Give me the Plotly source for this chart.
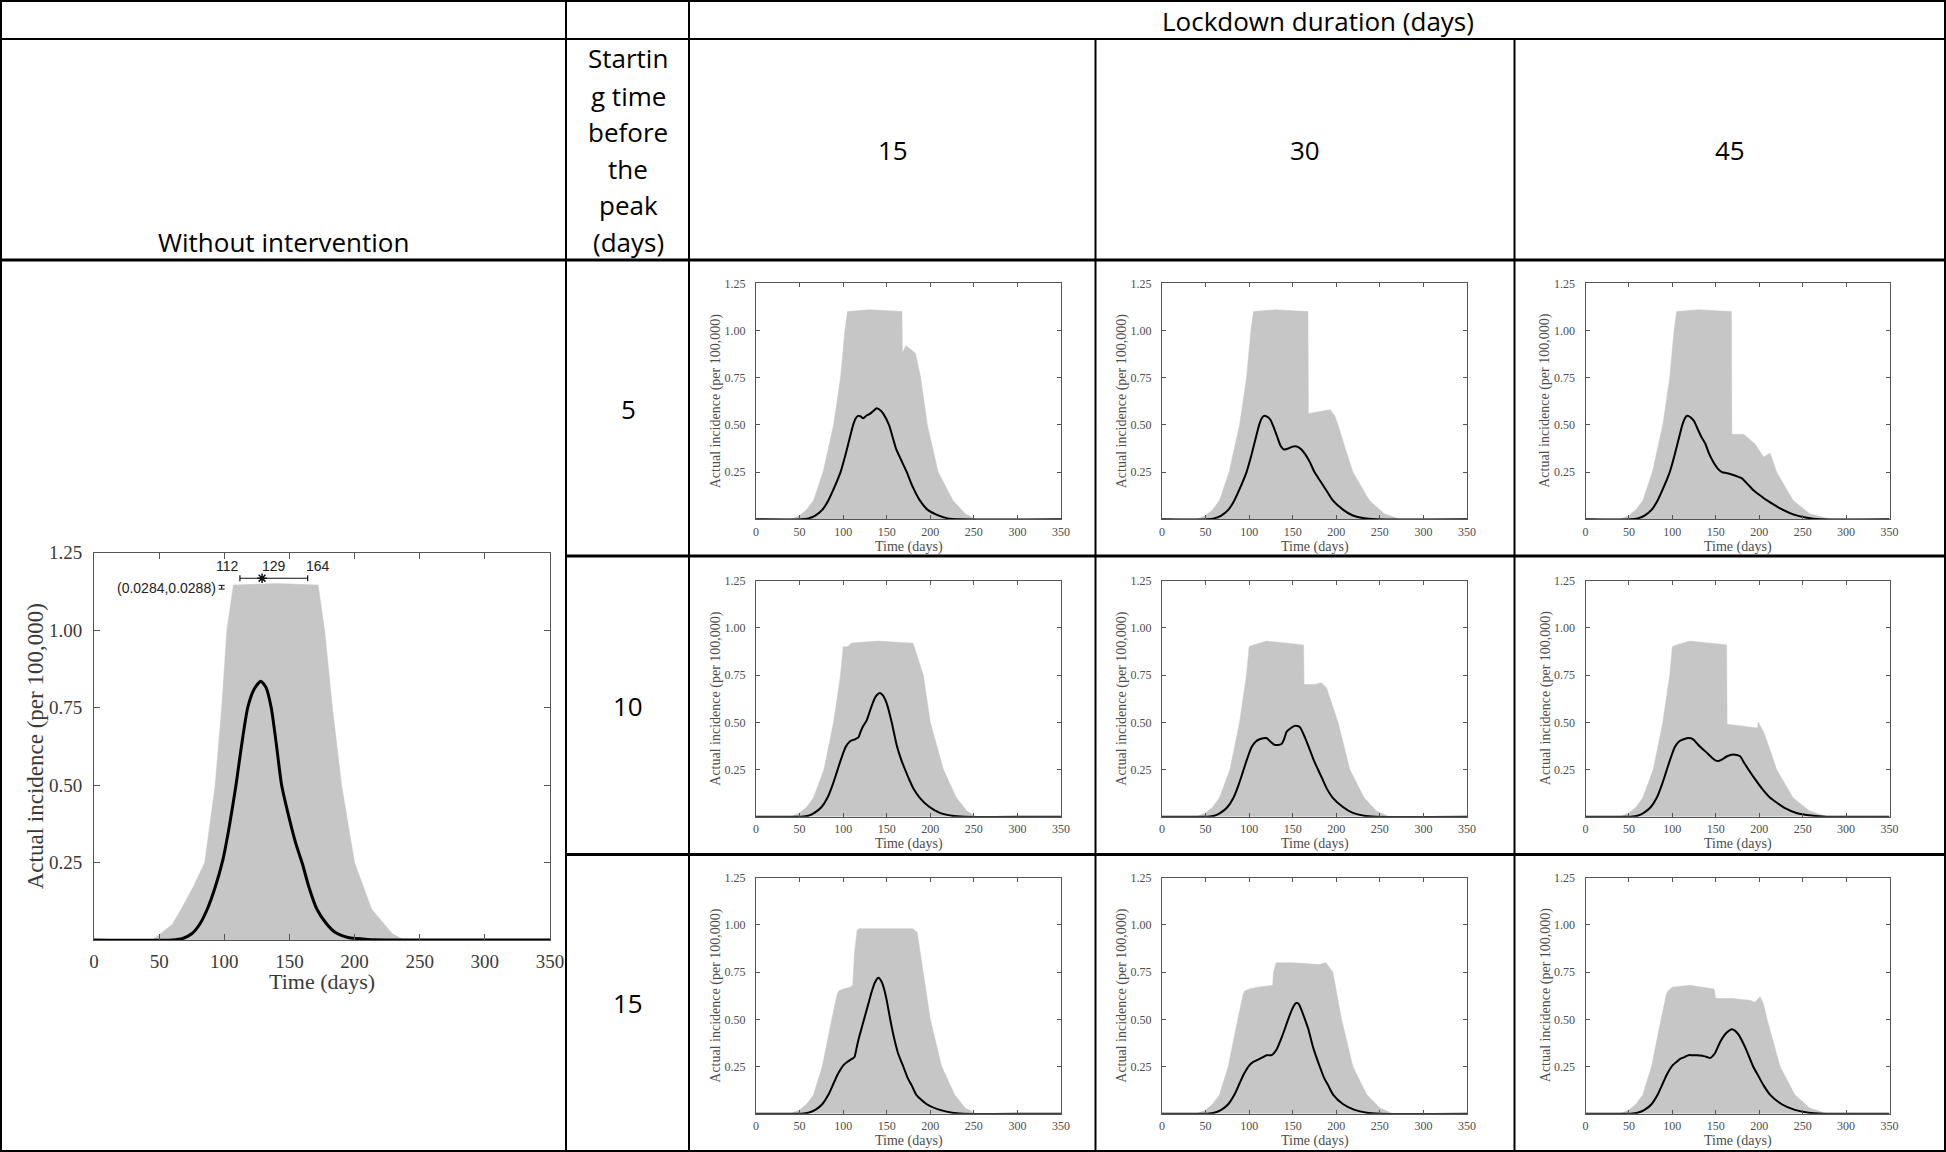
import plotly.graph_objects as go

W, H = 1946, 1152

# ------------------------------------------------------------------ data
X_TICKS = [0, 50, 100, 150, 200, 250, 300, 350]
Y_TICKS = [0.25, 0.50, 0.75, 1.00, 1.25]
Y_TICK_TEXT = ["0.25", "0.50", "0.75", "1.00", "1.25"]
DURATIONS = [15, 30, 45]          # lockdown duration (days)
STARTS = [5, 10, 15]              # starting time before the peak (days)

# --- without intervention
NOINT_ENV_DAYS = [0, 45, 51, 60, 67, 76, 85, 93, 98, 102, 107, 140, 172, 177, 183, 190, 200, 213, 229, 238, 350]
NOINT_ENV_VAL = [0, 0, 0.02, 0.05, 0.1, 0.17, 0.25, 0.5, 0.75, 1.0, 1.145, 1.15, 1.145, 1.0, 0.75, 0.5, 0.25, 0.1, 0.02, 0, 0]
NOINT_MEAN_DAYS = [0, 60, 68, 75, 81, 87, 93, 99, 104, 109, 113, 118, 123, 128, 132, 136, 140, 144, 150, 155,
                   160, 165, 171, 178, 185, 195, 210, 230, 350]
NOINT_MEAN_VAL = [0, 0, 0.005, 0.02, 0.05, 0.1, 0.17, 0.26, 0.37, 0.5, 0.62, 0.75, 0.81, 0.835, 0.815, 0.75, 0.63, 0.5, 0.39, 0.31,
                  0.245, 0.17, 0.1, 0.055, 0.025, 0.008, 0.002, 0, 0]
PEAK_DAY_LO, PEAK_DAY_MED, PEAK_DAY_HI = 112, 129, 164
PEAK_VAL_CI = (0.0284, 0.0288)

# --- shared rising part per starting-time row (before the lockdown acts)
ROW1_ENV_LEFT_DAYS = [0, 40, 50, 58, 66, 77, 89, 97, 102, 105]
ROW1_ENV_LEFT_VAL = [0, 0, 0.02, 0.05, 0.1, 0.25, 0.5, 0.75, 1.0, 1.1]
ROW2_ENV_LEFT_DAYS = [0, 40, 50, 58, 66, 78, 89, 97, 100]
ROW2_ENV_LEFT_VAL = [0, 0, 0.02, 0.05, 0.1, 0.25, 0.5, 0.75, 0.9]
ROW3_ENV_LEFT_DAYS = [0, 40, 50, 58, 66, 76, 87, 93, 95]
ROW3_ENV_LEFT_VAL = [0, 0, 0.02, 0.05, 0.1, 0.25, 0.5, 0.63, 0.65]

ROW1_MEAN_LEFT_DAYS = [0, 52, 60, 68, 76, 83, 90, 97, 102, 107, 111.5, 114.5, 117]
ROW1_MEAN_LEFT_VAL = [0, 0, 0.005, 0.02, 0.05, 0.1, 0.17, 0.25, 0.33, 0.42, 0.5, 0.535, 0.548]
ROW2_MEAN_LEFT_DAYS = [0, 52, 60, 67, 75, 82, 88, 93, 98, 103, 108]
ROW2_MEAN_LEFT_VAL = [0, 0, 0.005, 0.02, 0.05, 0.1, 0.17, 0.24, 0.31, 0.37, 0.40]
ROW3_MEAN_LEFT_DAYS = [0, 52, 60, 68, 76, 83, 88, 94, 100, 105]
ROW3_MEAN_LEFT_VAL = [0, 0, 0.005, 0.02, 0.05, 0.1, 0.15, 0.21, 0.255, 0.275]

# --- start 5 days before peak
S5_D15_ENV_DAYS = [130, 160, 167.5, 168, 172, 183, 189, 196.6, 209, 226, 240, 252, 350]
S5_D15_ENV_VAL = [1.11, 1.10, 1.10, 0.88, 0.92, 0.88, 0.75, 0.5, 0.25, 0.1, 0.03, 0, 0]
S5_D15_MEAN_DAYS = [120, 123, 127, 131, 135, 138.5, 142, 146, 152.6, 161, 167, 173, 180, 188, 197, 207, 220, 235, 350]
S5_D15_MEAN_VAL = [0.545, 0.535, 0.55, 0.56, 0.575, 0.588, 0.58, 0.56, 0.5, 0.37, 0.31, 0.25, 0.17, 0.1, 0.05, 0.025, 0.005, 0, 0]

S5_D30_ENV_DAYS = [130, 167.5, 168, 180, 193, 198, 202, 210, 219, 238, 255, 273, 350]
S5_D30_ENV_VAL = [1.11, 1.10, 0.56, 0.57, 0.58, 0.55, 0.5, 0.38, 0.25, 0.1, 0.03, 0, 0]
S5_D30_MEAN_DAYS = [120, 124, 128, 132, 136, 140, 145, 150, 155, 160, 165, 170, 175, 182, 189, 196, 208, 219, 232, 246, 350]
S5_D30_MEAN_VAL = [0.545, 0.53, 0.49, 0.44, 0.39, 0.37, 0.375, 0.385, 0.385, 0.37, 0.34, 0.30, 0.25, 0.2, 0.15, 0.1, 0.05, 0.02, 0.005, 0, 0]

S5_D45_ENV_DAYS = [130, 168, 168.5, 182, 195, 205, 212.6, 216, 220, 239, 258, 282, 350]
S5_D45_ENV_VAL = [1.11, 1.10, 0.45, 0.45, 0.40, 0.33, 0.35, 0.30, 0.25, 0.1, 0.03, 0, 0]
S5_D45_MEAN_DAYS = [121, 125, 128, 133, 138, 142, 147, 152, 157, 162, 166.5, 172, 180, 187, 193, 200, 209, 216, 224, 239, 255, 270, 350]
S5_D45_MEAN_VAL = [0.54, 0.52, 0.49, 0.44, 0.40, 0.35, 0.305, 0.27, 0.25, 0.245, 0.24, 0.232, 0.217, 0.185, 0.155, 0.13, 0.1, 0.08, 0.058, 0.026, 0.008, 0, 0]

# --- start 10 days before peak
S10_D15_ENV_DAYS = [105, 110, 140, 175, 180, 183, 192, 200, 215, 230, 242, 253, 350]
S10_D15_ENV_VAL = [0.90, 0.92, 0.93, 0.92, 0.92, 0.88, 0.75, 0.5, 0.25, 0.1, 0.03, 0, 0]
S10_D15_MEAN_DAYS = [113.6, 117.5, 120, 123, 127, 130, 133, 136, 138.5, 142, 146, 150, 155.7, 161.4, 166, 171, 176, 180.6, 188, 198, 211, 225, 240, 350]
S10_D15_MEAN_VAL = [0.41, 0.42, 0.45, 0.48, 0.51, 0.55, 0.59, 0.625, 0.643, 0.655, 0.64, 0.6, 0.5, 0.38, 0.31, 0.25, 0.195, 0.15, 0.1, 0.055, 0.02, 0.005, 0, 0]

S10_D30_ENV_DAYS = [105, 120, 140, 162.5, 163, 175, 183, 189, 202, 215.5, 232, 246, 261, 350]
S10_D30_ENV_VAL = [0.91, 0.93, 0.92, 0.91, 0.70, 0.70, 0.71, 0.68, 0.5, 0.25, 0.1, 0.03, 0, 0]
S10_D30_MEAN_DAYS = [112, 116, 120, 124, 129.5, 133, 137, 140, 143, 148, 152.5, 158, 164, 170, 175, 179, 184, 189, 196, 208, 219, 232, 246, 350]
S10_D30_MEAN_VAL = [0.41, 0.415, 0.417, 0.40, 0.38, 0.38, 0.385, 0.41, 0.45, 0.47, 0.482, 0.475, 0.42, 0.35, 0.29, 0.25, 0.2, 0.15, 0.1, 0.05, 0.02, 0.005, 0, 0]

S10_D45_ENV_DAYS = [105, 120, 140, 162.5, 163, 180, 195, 198, 199, 205, 212, 220, 239, 258, 278, 350]
S10_D45_ENV_VAL = [0.91, 0.93, 0.92, 0.91, 0.49, 0.48, 0.47, 0.47, 0.50, 0.45, 0.36, 0.25, 0.1, 0.03, 0, 0]
S10_D45_MEAN_DAYS = [113, 118.6, 124, 128, 132, 137, 141.6, 145, 149, 153, 158, 163, 170, 178, 182, 187.6, 195, 203, 212.6, 220, 228, 243, 260, 278, 350]
S10_D45_MEAN_VAL = [0.41, 0.417, 0.41, 0.39, 0.37, 0.35, 0.33, 0.315, 0.30, 0.295, 0.305, 0.32, 0.33, 0.32, 0.29, 0.25, 0.2, 0.15, 0.1, 0.075, 0.05, 0.02, 0.006, 0, 0]

# --- start 15 days before peak
S15_D15_ENV_DAYS = [100, 108, 111, 113, 116, 118, 150, 180, 185, 192, 200, 213, 228, 240, 253, 350]
S15_D15_ENV_VAL = [0.66, 0.67, 0.68, 0.85, 0.97, 0.98, 0.98, 0.98, 0.96, 0.75, 0.5, 0.25, 0.1, 0.03, 0, 0]
S15_D15_MEAN_DAYS = [110, 113, 115.5, 118, 121, 124, 127, 130, 133, 137, 140.4, 144, 147, 150, 154, 158, 163, 169, 174, 178.7, 184, 196, 211, 225, 238, 350]
S15_D15_MEAN_VAL = [0.29, 0.30, 0.35, 0.40, 0.45, 0.50, 0.55, 0.60, 0.65, 0.70, 0.72, 0.70, 0.66, 0.60, 0.5, 0.41, 0.32, 0.25, 0.19, 0.15, 0.1, 0.05, 0.02, 0.005, 0, 0]

S15_D30_ENV_DAYS = [100, 110, 127, 128, 131, 150, 180, 188, 193, 196, 206, 219, 235, 250, 265, 350]
S15_D30_ENV_VAL = [0.66, 0.67, 0.68, 0.75, 0.80, 0.80, 0.79, 0.80, 0.77, 0.75, 0.5, 0.25, 0.1, 0.03, 0, 0]
S15_D30_MEAN_DAYS = [112, 116, 120, 125.7, 131.5, 137, 141, 144.8, 149, 152.5, 154.5, 157, 160, 164, 167.8, 173.5, 181, 186, 190.7, 196.5, 208, 221, 235, 250, 350]
S15_D30_MEAN_VAL = [0.29, 0.30, 0.31, 0.31, 0.34, 0.40, 0.45, 0.50, 0.55, 0.58, 0.588, 0.58, 0.55, 0.50, 0.45, 0.35, 0.25, 0.19, 0.15, 0.1, 0.05, 0.02, 0.005, 0, 0]

S15_D45_ENV_DAYS = [100, 120, 148, 150, 170, 190, 195, 201, 205, 209, 224, 241, 258, 278, 350]
S15_D45_ENV_VAL = [0.67, 0.68, 0.66, 0.61, 0.61, 0.60, 0.59, 0.62, 0.58, 0.5, 0.25, 0.1, 0.03, 0, 0]
S15_D45_MEAN_DAYS = [109, 114, 118.6, 123, 128, 132, 136, 140, 143.5, 149, 155, 159, 162.7, 168.5, 172, 176, 184, 193, 199, 205, 212.6, 226, 241, 257, 274, 350]
S15_D45_MEAN_VAL = [0.29, 0.30, 0.31, 0.31, 0.31, 0.308, 0.305, 0.30, 0.295, 0.32, 0.38, 0.41, 0.43, 0.447, 0.44, 0.42, 0.35, 0.25, 0.2, 0.15, 0.1, 0.05, 0.02, 0.005, 0, 0]

PANELS = {
    (5, 15): (ROW1_ENV_LEFT_DAYS + S5_D15_ENV_DAYS, ROW1_ENV_LEFT_VAL + S5_D15_ENV_VAL,
              ROW1_MEAN_LEFT_DAYS + S5_D15_MEAN_DAYS, ROW1_MEAN_LEFT_VAL + S5_D15_MEAN_VAL),
    (5, 30): (ROW1_ENV_LEFT_DAYS + S5_D30_ENV_DAYS, ROW1_ENV_LEFT_VAL + S5_D30_ENV_VAL,
              ROW1_MEAN_LEFT_DAYS + S5_D30_MEAN_DAYS, ROW1_MEAN_LEFT_VAL + S5_D30_MEAN_VAL),
    (5, 45): (ROW1_ENV_LEFT_DAYS + S5_D45_ENV_DAYS, ROW1_ENV_LEFT_VAL + S5_D45_ENV_VAL,
              ROW1_MEAN_LEFT_DAYS + S5_D45_MEAN_DAYS, ROW1_MEAN_LEFT_VAL + S5_D45_MEAN_VAL),
    (10, 15): (ROW2_ENV_LEFT_DAYS + S10_D15_ENV_DAYS, ROW2_ENV_LEFT_VAL + S10_D15_ENV_VAL,
               ROW2_MEAN_LEFT_DAYS + S10_D15_MEAN_DAYS, ROW2_MEAN_LEFT_VAL + S10_D15_MEAN_VAL),
    (10, 30): (ROW2_ENV_LEFT_DAYS + S10_D30_ENV_DAYS, ROW2_ENV_LEFT_VAL + S10_D30_ENV_VAL,
               ROW2_MEAN_LEFT_DAYS + S10_D30_MEAN_DAYS, ROW2_MEAN_LEFT_VAL + S10_D30_MEAN_VAL),
    (10, 45): (ROW2_ENV_LEFT_DAYS + S10_D45_ENV_DAYS, ROW2_ENV_LEFT_VAL + S10_D45_ENV_VAL,
               ROW2_MEAN_LEFT_DAYS + S10_D45_MEAN_DAYS, ROW2_MEAN_LEFT_VAL + S10_D45_MEAN_VAL),
    (15, 15): (ROW3_ENV_LEFT_DAYS + S15_D15_ENV_DAYS, ROW3_ENV_LEFT_VAL + S15_D15_ENV_VAL,
               ROW3_MEAN_LEFT_DAYS + S15_D15_MEAN_DAYS, ROW3_MEAN_LEFT_VAL + S15_D15_MEAN_VAL),
    (15, 30): (ROW3_ENV_LEFT_DAYS + S15_D30_ENV_DAYS, ROW3_ENV_LEFT_VAL + S15_D30_ENV_VAL,
               ROW3_MEAN_LEFT_DAYS + S15_D30_MEAN_DAYS, ROW3_MEAN_LEFT_VAL + S15_D30_MEAN_VAL),
    (15, 45): (ROW3_ENV_LEFT_DAYS + S15_D45_ENV_DAYS, ROW3_ENV_LEFT_VAL + S15_D45_ENV_VAL,
               ROW3_MEAN_LEFT_DAYS + S15_D45_MEAN_DAYS, ROW3_MEAN_LEFT_VAL + S15_D45_MEAN_VAL),
}

# ------------------------------------------------------------------ style / geometry (pixels)
GREY = "#c6c6c6"
SERIF = "Liberation Serif, Times New Roman, serif"
SANS = "Open Sans, Lato, Carlito, Calibri, sans-serif"
ARIAL = "Liberation Sans, Arial, sans-serif"

COL_X = [(756, 1061), (1162, 1467), (1585.5, 1889.5)]
ROW_Y = [(283.3, 519.3), (580.7, 816.7), (877.7, 1113.7)]
BIG_X = (94, 550)
BIG_Y = (552.5, 940)


def fx(p):
    return p / W


def fy(p):
    return 1 - p / H


fig = go.Figure()
annotations = []
layout_axes = {}


def axis_pair(idx, xpx, ypx, big):
    tick_size = 19 if big else 12
    tcol = "#3a3a3a" if big else "#4d4d4d"
    common = dict(showgrid=False, zeroline=False, showline=True, linecolor="#555", linewidth=1,
                  mirror="ticks", ticks="inside", ticklen=6 if big else 4, tickcolor="#555", tickwidth=1,
                  tickfont=dict(family=SERIF, size=tick_size, color=tcol), fixedrange=True,
                  automargin=False)
    sfx = "" if idx == 1 else str(idx)
    layout_axes["xaxis" + sfx] = dict(common, domain=[fx(xpx[0]), fx(xpx[1])], range=[0, 350],
                                      tickvals=X_TICKS, ticktext=[str(t) for t in X_TICKS],
                                      anchor="y" + sfx, ticklabelstandoff=4 if big else 1)
    layout_axes["yaxis" + sfx] = dict(common, domain=[fy(ypx[1]), fy(ypx[0])], range=[0, 1.25],
                                      tickvals=Y_TICKS, ticktext=Y_TICK_TEXT,
                                      anchor="x" + sfx, ticklabelstandoff=7 if big else 7)
    # axis titles
    tsize = 22 if big else 14
    cx = (xpx[0] + xpx[1]) / 2
    cy = (ypx[0] + ypx[1]) / 2
    annotations.append(dict(text="Time (days)", xref="paper", yref="paper", x=fx(cx),
                            y=fy(ypx[1] + (41 if big else 27.5)), showarrow=False,
                            xanchor="center", yanchor="middle",
                            font=dict(family=SERIF, size=tsize, color=tcol)))
    annotations.append(dict(text="Actual incidence (per 100,000)", xref="paper", yref="paper",
                            x=fx(xpx[0] - (59 if big else 40)), y=fy(cy), showarrow=False, textangle=-90,
                            xanchor="center", yanchor="middle",
                            font=dict(family=SERIF, size=23 if big else 14, color=tcol)))
    return ("x" + sfx, "y" + sfx)


def add_panel(xa, ya, env_d, env_v, mean_d, mean_v, lw):
    fig.add_trace(go.Scatter(x=env_d, y=env_v, mode="lines", fill="tozeroy", fillcolor=GREY,
                             line=dict(width=0.5, color=GREY), xaxis=xa, yaxis=ya, hoverinfo="skip"))
    fig.add_trace(go.Scatter(x=mean_d, y=mean_v, mode="lines", line=dict(width=lw, color="black",
                             shape="spline", smoothing=0.6), xaxis=xa, yaxis=ya))


# big panel: without intervention
xa, ya = axis_pair(1, BIG_X, BIG_Y, True)
add_panel(xa, ya, NOINT_ENV_DAYS, NOINT_ENV_VAL, NOINT_MEAN_DAYS, NOINT_MEAN_VAL, 3)
# peak-time interval
fig.add_trace(go.Scatter(x=[PEAK_DAY_MED], y=[1.167], mode="markers",
                         marker=dict(symbol="asterisk-open", size=8, color="#111",
                                     line=dict(width=1.5, color="#111")),
                         error_x=dict(type="data", symmetric=False, array=[PEAK_DAY_HI - PEAK_DAY_MED],
                                      arrayminus=[PEAK_DAY_MED - PEAK_DAY_LO], color="#111",
                                      thickness=1.2, width=3),
                         xaxis=xa, yaxis=ya))
# peak-value interval (tiny)
fig.add_trace(go.Scatter(x=[98], y=[1.138], mode="markers", marker=dict(size=1, color="#111"),
                         error_y=dict(type="data", array=[0.006], color="#111", thickness=1, width=3),
                         xaxis=xa, yaxis=ya))
for val, anchor, shift in [(PEAK_DAY_LO, "right", 1), (PEAK_DAY_MED, "left", -2), (PEAK_DAY_HI, "left", -4)]:
    annotations.append(dict(text=str(val), x=val, y=1.205, xref=xa, yref=ya, showarrow=False,
                            xanchor=anchor, yanchor="middle", xshift=shift,
                            font=dict(family=ARIAL, size=14, color="#222")))
annotations.append(dict(text="(%s,%s)" % PEAK_VAL_CI, x=98, y=1.135, xref=xa, yref=ya, showarrow=False,
                        xanchor="right", yanchor="middle", xshift=-4,
                        font=dict(family=ARIAL, size=14, color="#222")))

# 3x3 grid
idx = 2
for r, s in enumerate(STARTS):
    for c, d in enumerate(DURATIONS):
        xa, ya = axis_pair(idx, COL_X[c], ROW_Y[r], False)
        env_d, env_v, mean_d, mean_v = PANELS[(s, d)]
        add_panel(xa, ya, env_d, env_v, mean_d, mean_v, 2)
        idx += 1

# ------------------------------------------------------------------ table text
hdr = dict(family=SANS, size=26, color="black")


def cell_text(text, xpix, ypix):
    annotations.append(dict(text=text, x=fx(xpix), y=fy(ypix), xref="paper", yref="paper",
                            xanchor="center", yanchor="middle", showarrow=False, font=hdr))


cell_text("Lockdown duration (days)", (690 + 1945) / 2, 21)
cell_text("Without intervention", 283, 242)
for line, ypix in zip(["Startin", "g time", "before", "the", "peak", "(days)"],
                      [58, 96, 132, 169, 205, 242]):
    cell_text(line, 628, ypix)
for d, cx in zip(DURATIONS, [892.5, 1304.5, 1729.5]):
    cell_text(str(d), cx, 150)
for s, cy in zip(STARTS, [409, 706, 1003]):
    cell_text(str(s), 628, cy)

# ------------------------------------------------------------------ table lines
shapes = []


def hline(y, x0, x1, w=2):
    shapes.append(dict(type="line", xref="paper", yref="paper", x0=fx(x0), x1=fx(x1), y0=fy(y), y1=fy(y),
                       line=dict(color="black", width=w)))


def vline(x, y0, y1, w=2):
    shapes.append(dict(type="line", xref="paper", yref="paper", x0=fx(x), x1=fx(x), y0=fy(y0), y1=fy(y1),
                       line=dict(color="black", width=w)))


hline(1, 0, 1946)
hline(39, 0, 1946)
hline(260, 0, 1946, 3)
hline(556, 566, 1946, 3)
hline(854.5, 566, 1946, 3)
hline(1151, 0, 1946)
vline(1, 0, 1152)
vline(566, 0, 1152)
vline(689, 0, 1152)
vline(1095.5, 39, 1152)
vline(1514.5, 39, 1152)
vline(1945, 0, 1152)

fig.update_layout(width=W, height=H, margin=dict(l=0, r=0, t=0, b=0, pad=0), showlegend=False,
                  paper_bgcolor="white", plot_bgcolor="white", annotations=annotations, shapes=shapes,
                  **layout_axes)

fig.write_html("out.html", config={"displayModeBar": False},
               post_script="document.documentElement.style.margin='0';document.body.style.margin='0';"
                           "document.body.style.padding='0';document.documentElement.style.overflow='hidden';"
                           "document.body.style.overflow='hidden';")
